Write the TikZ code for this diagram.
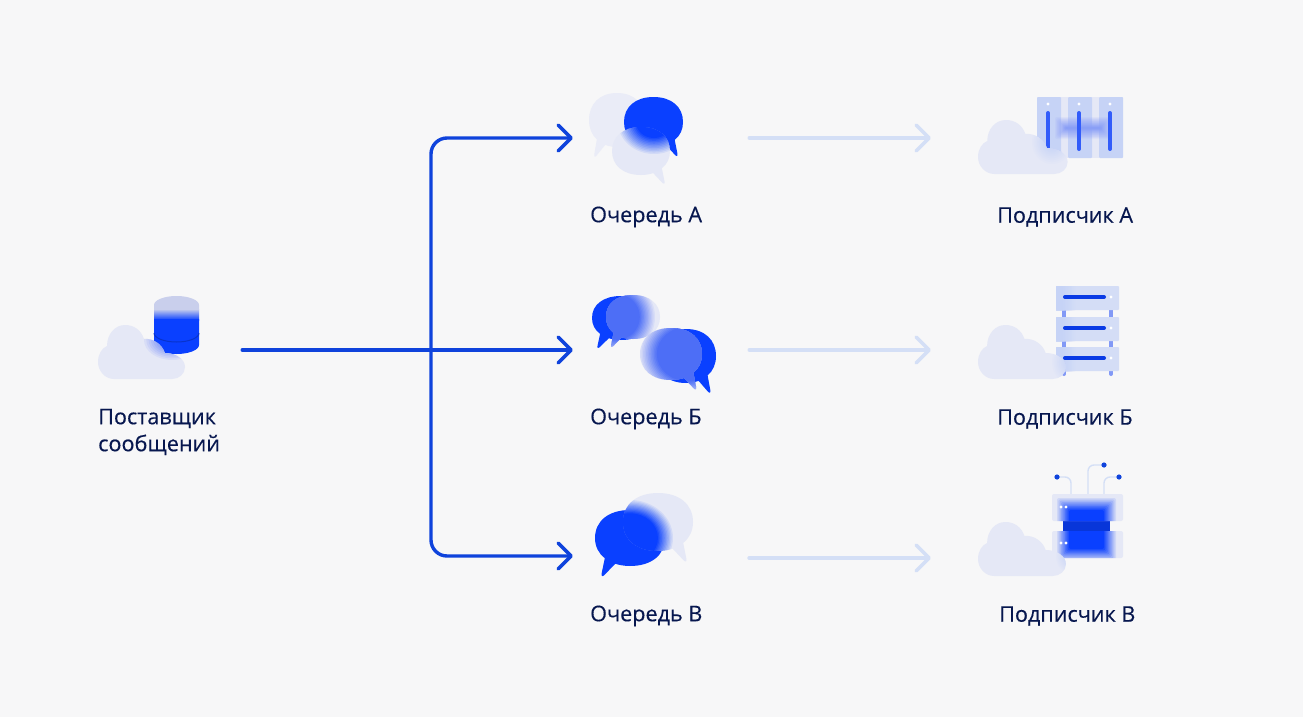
\documentclass[tikz,border=0pt]{standalone}
\usepackage{fontspec}
\setmainfont{Open Sans}[RawFeature={embolden=0.3}]
\usepackage{tikz}
\usetikzlibrary{arrows.meta}

\definecolor{bgGray}{HTML}{F7F7F8}
\definecolor{inkNavy}{HTML}{07174F}
\definecolor{lineBlue}{HTML}{0F43DC}
\definecolor{linePale}{HTML}{D4DFF6}
\definecolor{iconBlue}{HTML}{0A40FF}
\definecolor{glassPale}{HTML}{E5E8F6}
\definecolor{midBlue}{HTML}{4D6EF6}
\definecolor{panelPale}{HTML}{C6D3F6}
\definecolor{dbPale}{HTML}{C9CFEC}

% blurred ellipse from stacked layers: centre, radii, blur part, colour
\newcommand{\softspot}[6]{
\foreach \k in {1,...,12}{
\pgfmathsetmacro{\layerop}{1/(13-\k)}
\pgfmathsetmacro{\layerfac}{1-#5*(\k-1)/11}
\fill[#6,opacity=\layerop] (#1,#2) ellipse [x radius={#3*\layerfac},y radius={#4*\layerfac}];
}}
% the same for a rectangle: corners, blur, colour
\newcommand{\softrect}[6]{
\foreach \k in {1,...,10}{
\pgfmathsetmacro{\layerop}{1/(11-\k)}
\fill[#6,opacity=\layerop,rounded corners=2pt] ({#1+(\k-5.5)*#5/4.5},{#2+(\k-5.5)*#5/4.5}) rectangle ({#3-(\k-5.5)*#5/4.5},{#4-(\k-5.5)*#5/4.5});
}}

\newcommand{\bubbleoutline}{(0,-1) .. controls (.62,-1) and (1,-.6) .. (1,0) .. controls (1,.6) and (.62,1) .. (0,1) .. controls (-.15,1) and (-.3,.97) .. (-.42,.92) -- (-.70,1.28) .. controls (-.78,1.40) and (-.83,1.38) .. (-.81,1.26) -- (-.72,.72) .. controls (-.9,.55) and (-1,.3) .. (-1,0) .. controls (-1,-.6) and (-.62,-1) .. (0,-1) -- cycle}
\newcommand{\bubble}[5]{\fill[#5,shift={(#1,#2)},xscale=#3,yscale=#4] \bubbleoutline;}
\newcommand{\bubbleclip}[4]{\clip[shift={(#1,#2)},xscale=#3,yscale=#4] \bubbleoutline;}

\newcommand{\cloudoutline}{(16,54) .. controls (7,54) and (0,46) .. (0,37) .. controls (0,29) and (4,23) .. (9,21) .. controls (9,9) and (17,0) .. (27,0) .. controls (36,0) and (43,5) .. (46,14) .. controls (55,13) and (64,19) .. (67,28) .. controls (78,28) and (87,34) .. (87,42) .. controls (87,49) and (81,54) .. (74,54) -- cycle}
\newcommand{\cloudfill}[3]{\fill[glassPale,shift={(#1,#2)},xscale=#3] \cloudoutline;}
\newcommand{\cloudclip}[3]{\clip[shift={(#1,#2)},xscale=#3] \cloudoutline;}

\begin{document}
\begin{tikzpicture}[x=1pt,y=-1pt,
mainline/.style={draw=lineBlue,line width=3.4pt,line cap=round,line join=round,-{Straight Barb[length=13pt,width=26pt,round]}},
paleline/.style={mainline,draw=linePale},
spot/.style={minimum width=#1,minimum height=100pt,inner sep=0pt},
lbl/.style={anchor=west,text=inkNavy,inner sep=0pt,font=\fontsize{21.6}{27}\selectfont,align=left}]
\useasboundingbox (0,0) rectangle (1303,717);
\fill[bgGray] (0,0) rectangle (1303,717);

% database
\fill[dbPale] (154,305) arc [start angle=180,end angle=360,x radius=22.5,y radius=9] -- (199,310) -- (154,310) -- cycle;
\shade[top color=dbPale,bottom color=iconBlue] (154,309) rectangle (199,320);
\fill[iconBlue] (154,319) -- (199,319) -- (199,345) arc [start angle=0,end angle=180,x radius=22.5,y radius=9] -- cycle;
\draw[iconBlue!80!black,line width=1pt] (154,333) arc [start angle=180,end angle=0,x radius=22.5,y radius=9];
\cloudfill{98}{325}{1}
\begin{scope}
\cloudclip{98}{325}{1}
\softspot{172}{340}{28}{20}{.9}{midBlue}
\end{scope}

% queue A
\bubble{617}{120}{28}{27}{glassPale!75!bgGray}
\bubble{653.5}{122}{-29.5}{25}{iconBlue}
\bubble{641}{151}{-29}{24}{glassPale}
\begin{scope}
\bubbleclip{641}{151}{-29}{24}
\softspot{654}{122}{36}{32}{.5}{iconBlue}
\end{scope}

% queue B
\bubble{621}{318}{29}{22}{iconBlue}
\bubble{633}{317}{27}{22}{glassPale}
\begin{scope}
\bubbleclip{633}{317}{27}{22}
\softspot{617}{317}{38}{38}{.4}{midBlue}
\end{scope}
\bubble{686}{356}{-30}{27}{iconBlue}
\bubble{671}{354}{-31}{26}{glassPale}
\begin{scope}
\bubbleclip{671}{354}{-31}{26}
\softspot{688}{354}{48}{42}{.35}{midBlue}
\end{scope}

% queue C
\bubble{630}{538}{35}{28}{iconBlue}
\bubble{658}{522}{-35}{29}{glassPale}
\begin{scope}
\bubbleclip{658}{522}{-35}{29}
\softspot{630}{538}{43}{38}{.35}{iconBlue}
\end{scope}

% subscriber A
\fill[glassPale] (1037,97) rectangle (1123,158);
\foreach \px in {1037,1068,1099}{
\fill[panelPale,rounded corners=1pt] (\px,97) rectangle ({\px+24},158);
}
\softrect{1060}{122}{1106}{134}{5}{midBlue!60!glassPale}
\foreach \bx in {1048,1079,1110}{
\draw[midBlue!60!iconBlue,line width=4pt,line cap=round] (\bx,113) -- (\bx,149);
\fill[white] (\bx,104) circle (1.6);
}
\cloudfill{978}{120}{1.03}
\begin{scope}
\cloudclip{978}{120}{1.03}
\softspot{1052}{142}{20}{22}{.95}{panelPale}
\end{scope}

% subscriber B
\foreach \lx in {1064,1111}{
\draw[midBlue!65!glassPale,line width=4pt,line cap=round] (\lx,288) -- (\lx,374);
}
\foreach \sy in {286,317,347}{
\fill[panelPale!55!glassPale,rounded corners=1pt] (1056,\sy) rectangle (1119,{\sy+24});
\begin{scope}
\clip (1056,\sy) rectangle (1119,{\sy+24});
\softrect{1050}{(\sy-6)}{1068}{(\sy+30)}{7}{panelPale}
\end{scope}
\draw[iconBlue!90!black,line width=4pt,line cap=round] (1065,{\sy+11}) -- (1104,{\sy+11});
\fill[white] (1111,{\sy+11}) circle (1.6);
}
\cloudfill{978}{325}{1.01}
\begin{scope}
\cloudclip{978}{325}{1.01}
\softspot{1072}{362}{20}{22}{.95}{panelPale}
\end{scope}

% subscriber C
\draw[linePale,line width=1.4pt,rounded corners=6pt] (1071,494) |- (1057,477);
\draw[linePale,line width=1.4pt,rounded corners=6pt] (1088,494) |- (1104,465);
\draw[linePale,line width=1.4pt,rounded corners=6pt] (1104,494) |- (1119,477);
\fill[lineBlue] (1057,477) circle (2.6);
\fill[lineBlue] (1104,465) circle (2.6);
\fill[lineBlue] (1119,477) circle (2.6);
\fill[iconBlue!85!black] (1063,518) rectangle (1110,534);
\fill[glassPale,rounded corners=2pt] (1052,494) rectangle (1123,521);
\fill[glassPale,rounded corners=2pt] (1052,531) rectangle (1123,558);
\begin{scope}
\clip (1052,494) rectangle (1123,521) (1052,531) rectangle (1123,558);
\softrect{1063}{504}{1110}{555}{6}{iconBlue}
\end{scope}
\foreach \dy in {507,543}{
\fill[white] (1061,\dy) circle (1.6);
\fill[white] (1066,\dy) circle (1.6);
}
\cloudfill{978}{522}{1.01}
\begin{scope}
\cloudclip{978}{522}{1.01}
\softspot{1072}{556}{16}{18}{.95}{panelPale}
\end{scope}

\node[spot=100pt] (prov) at (192,350) {};
\node[spot=176pt] (qA) at (661,138) {};
\node[spot=176pt] (qB) at (661,350) {};
\node[spot=176pt] (qC) at (661,556) {};
\node[spot=180pt] (subA) at (1021,138) {};
\node[spot=180pt] (subB) at (1021,350) {};
\node[spot=180pt] (subC) at (1021,558) {};
\coordinate (fork) at (431,350);
\coordinate (qCout) at (749,558);

\draw[mainline] (prov.east) -- (qB.west);
\draw[mainline,rounded corners=16pt] (fork) |- (qA.west);
\draw[mainline,rounded corners=16pt] (fork) |- (qC.west);
\draw[paleline] (qA.east) -- (subA.west);
\draw[paleline] (qB.east) -- (subB.west);
\draw[paleline] (qCout) -- (subC.west);

\node[lbl] (provText) at (98,432) {Поставщик\\сообщений};
\node[lbl] (qAText) at (590,217) {Очередь А};
\node[lbl] (qBText) at (590,419) {Очередь Б};
\node[lbl] (qCText) at (590,616) {Очередь В};
\node[lbl] (subAText) at (997,217) {Подписчик А};
\node[lbl] (subBText) at (997,419) {Подписчик Б};
\node[lbl] (subCText) at (999,616) {Подписчик В};
\end{tikzpicture}
\end{document}
